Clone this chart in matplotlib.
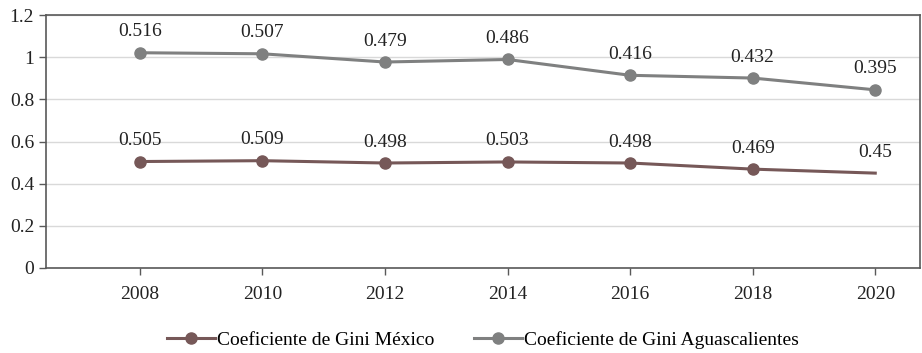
import matplotlib.pyplot as plt

# Gini coefficient data (Aguascalientes stacked on top of Mexico)
years = [2008, 2010, 2012, 2014, 2016, 2018, 2020]
gini_mexico = [0.505, 0.509, 0.498, 0.503, 0.498, 0.469, 0.45]
gini_ags = [0.516, 0.507, 0.479, 0.486, 0.416, 0.432, 0.395]
y_ticks = [0, 0.2, 0.4, 0.6, 0.8, 1, 1.2]
y_labels = ['0', '0.2', '0.4', '0.6', '0.8', '1', '1.2']

brown = '#765858'
grey = '#7f8080'
plt.rcParams['font.family'] = ['Liberation Serif', 'DejaVu Serif']

stacked = [m + a for m, a in zip(gini_mexico, gini_ags)]

fig = plt.figure(figsize=(9.22, 3.53), dpi=100)
ax = fig.add_axes([46 / 922, 85 / 353, 874 / 922, 253 / 353])

ax.plot(years[:-1], gini_mexico[:-1], color=brown, lw=2.2, marker='o', ms=8,
        label='Coeficiente de Gini México', zorder=3)
ax.plot(years[-2:], gini_mexico[-2:], color=brown, lw=2.2, zorder=3)
ax.plot(years, stacked, color=grey, lw=2.2, marker='o', ms=8,
        label='Coeficiente de Gini Aguascalientes', zorder=3)

for x, y, v in zip(years, gini_mexico, gini_mexico):
    ax.annotate(f'{v:g}', (x, y), xytext=(0, 9), textcoords='offset points',
                ha='center', va='bottom', fontsize=14, color='#222222')
for x, y, v in zip(years, stacked, gini_ags):
    ax.annotate(f'{v:g}', (x, y), xytext=(0, 9), textcoords='offset points',
                ha='center', va='bottom', fontsize=14, color='#222222')

ax.set_xlim(2006.47, 2020.73)
ax.set_ylim(0, 1.2)
ax.set_xticks(years)
ax.set_xticklabels([str(y) for y in years])
ax.set_yticks(y_ticks)
ax.set_yticklabels(y_labels)
ax.tick_params(axis='both', labelsize=14, colors='#595959', labelcolor='#222222',
               length=5, width=1, direction='out')
ax.tick_params(axis='x', pad=8)
ax.grid(axis='y', color='#d9d9d9', lw=1, zorder=0)
for s in ax.spines.values():
    s.set_color('#595959')
    s.set_linewidth(1.2)

ax.legend(loc='center', bbox_to_anchor=(0.5, -0.285), ncol=2, frameon=False,
          fontsize=14, handlelength=2.5, handletextpad=0.1, columnspacing=2.0,
          borderpad=0)

plt.savefig('out.png', dpi=100)
